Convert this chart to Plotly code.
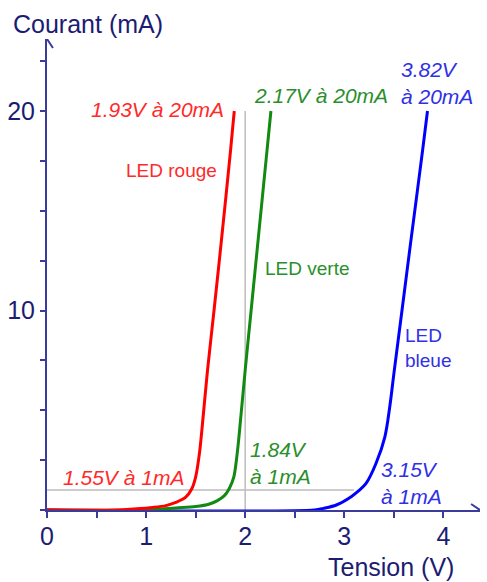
import plotly.graph_objects as go

# ---- data (V, mA) ----
red_v = [0.0, 0.70, 0.87, 1.07, 1.20, 1.30, 1.40, 1.46, 1.50, 1.54, 1.58, 1.62, 1.69, 1.76, 1.85, 1.89]
red_i = [0.0, 0.00, 0.05, 0.13, 0.22, 0.38, 0.64, 1.05, 1.65, 2.90, 4.90, 7.00, 10.2, 13.5, 17.9, 20.0]

green_v = [0.0, 1.00, 1.30, 1.50, 1.64, 1.72, 1.79, 1.84, 1.885, 1.92, 1.955, 2.00, 2.06, 2.13, 2.22, 2.26]
green_i = [0.0, 0.00, 0.10, 0.17, 0.30, 0.47, 0.72, 1.08, 1.65, 2.85, 4.60, 7.00, 10.0, 13.5, 18.0, 20.0]

blue_v = [0.0, 2.70, 2.79, 2.92, 3.07, 3.15, 3.22, 3.32, 3.41, 3.46, 3.50, 3.58, 3.67, 3.79, 3.84]
blue_i = [0.0, 0.00, 0.08, 0.25, 0.67, 0.98, 1.33, 2.33, 3.67, 5.20, 6.80, 9.90, 13.4, 18.0, 20.0]

x_ticks = [0, 0.5, 1, 1.5, 2, 2.5, 3, 3.5, 4]
x_ticklabels = ["0", "", "1", "", "2", "", "3", "", "4"]
y_ticks = [0, 2.5, 5, 7.5, 10, 12.5, 15, 17.5, 20, 22.5]
y_ticklabels = ["", "", "", "", "10", "", "", "", "20", ""]

ref_v_line = [2.0, 0.0, 20.0]     # vertical guide: x, y0, y1
ref_h_line = [1.0, 0.0, 3.10]     # horizontal guide: y, x0, x1

# ---- layout geometry (pixels) ----
W, H = 487, 582
L, R, T, B = 43, 7, 39, 72
PW, PH = W - L - R, H - T - B
XMAX = 4.37
YMAX = (H - B - T) / 19.95

NAVY_LINE = "#3b3b9c"
NAVY_TXT = "#1c1c72"
FONT = "Liberation Sans, Arial, sans-serif"


def px(x):
    return (x - L) / PW


def py(y):
    return (H - B - y) / PH


fig = go.Figure()
for v, i, c in [(blue_v, blue_i, "#0000ff"), (green_v, green_i, "#128a12"), (red_v, red_i, "#ff0000")]:
    fig.add_trace(go.Scatter(x=v, y=i, mode="lines", line=dict(color=c, width=3, shape="spline", smoothing=0.9),
                             cliponaxis=False, showlegend=False, hoverinfo="skip"))

# guide lines
fig.add_shape(type="line", xref="x", yref="y", x0=ref_v_line[0], x1=ref_v_line[0], y0=ref_v_line[1], y1=ref_v_line[2],
              line=dict(color="#bdbdbd", width=1.5), layer="below")
fig.add_shape(type="line", xref="x", yref="y", x0=ref_h_line[1], x1=ref_h_line[2], y0=ref_h_line[0], y1=ref_h_line[0],
              line=dict(color="#bdbdbd", width=1.5), layer="below")

# arrowheads
ux, uy = XMAX / PW, YMAX / PH
fig.add_shape(type="path", xref="x", yref="y",
              path=f"M {-6*ux} {YMAX-9*uy} L 0 {YMAX} L {6*ux} {YMAX-9*uy}",
              line=dict(color=NAVY_LINE, width=2))
fig.add_shape(type="path", xref="x", yref="y",
              path=f"M {XMAX-9*ux} {6*uy} L {XMAX} 0 L {XMAX-9*ux} {-6*uy}",
              line=dict(color=NAVY_LINE, width=2))

ann = []


def txt(text, x, y, color, size, italic=False, xanchor="center", align="left"):
    ann.append(dict(text=text, x=px(x), y=py(y), xref="paper", yref="paper", showarrow=False,
                    xanchor=xanchor, yanchor="middle", align=align,
                    font=dict(family=FONT, size=size, color=color, style="italic" if italic else "normal")))


RED_T, GREEN_T, BLUE_T = "#ff2a2a", "#2a8f2a", "#3030e6"
txt("Courant (mA)", 84, 24, NAVY_TXT, 25)
txt("Tension (V)", 390, 567, NAVY_TXT, 25)
txt("1.93V à 20mA", 155, 110, RED_T, 21, True)
txt("2.17V à 20mA", 320, 96, GREEN_T, 21, True)
txt("3.82V<br>à 20mA", 398, 83, BLUE_T, 21, True, xanchor="left")
txt("LED rouge", 169, 170, RED_T, 19)
txt("LED verte", 305, 268, GREEN_T, 19)
txt("LED<br>bleue", 402, 348, BLUE_T, 19, xanchor="left")
txt("1.55V à 1mA", 120, 477, RED_T, 21, True)
txt("1.84V<br>à 1mA", 246, 463, GREEN_T, 21, True, xanchor="left")
txt("3.15V<br>à 1mA", 378, 483, BLUE_T, 21, True, xanchor="left")

fig.update_layout(
    width=W, height=H, margin=dict(l=L, r=R, t=T, b=B, pad=0),
    paper_bgcolor="white", plot_bgcolor="white",
    annotations=ann,
    xaxis=dict(range=[0, XMAX], showgrid=False, zeroline=False, showline=True, linecolor=NAVY_LINE, linewidth=2,
               tickmode="array", tickvals=x_ticks, ticktext=x_ticklabels, ticks="outside", ticklen=6, tickwidth=2,
               tickcolor=NAVY_LINE, tickfont=dict(family=FONT, size=25, color=NAVY_TXT), fixedrange=True,
               ticklabelstandoff=-3),
    yaxis=dict(range=[0, YMAX], showgrid=False, zeroline=False, showline=True, linecolor=NAVY_LINE, linewidth=2,
               tickmode="array", tickvals=y_ticks, ticktext=y_ticklabels, ticks="outside", ticklen=5, tickwidth=2,
               tickcolor=NAVY_LINE, tickfont=dict(family=FONT, size=25, color=NAVY_TXT), fixedrange=True),
)

fig.write_html("out.html")
